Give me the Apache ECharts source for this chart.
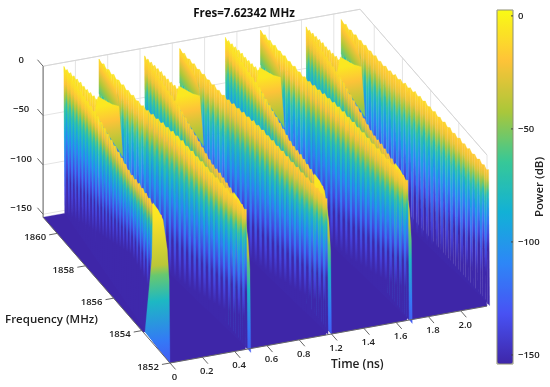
<!DOCTYPE html>
<html>
<head>
<meta charset="utf-8">
<style>html,body{margin:0;padding:0;background:#fff}#main{width:550px;height:387px}</style>
<script src="https://cdn.jsdelivr.net/npm/echarts@6/dist/echarts.min.js"></script>
</head>
<body>
<div id="main"></div>
<script>
// axis ticks
var timeTicks = [0, 0.2, 0.4, 0.6, 0.8, 1.0, 1.2, 1.4, 1.6, 1.8];
var timeLabels = ['0', '0.2', '0.4', '0.6', '0.8', '1.2', '1.4', '1.6', '1.8', '2.0'];
var freqTicks = [1852, 1854, 1856, 1858, 1860];
var powerTicks = [0, -50, -100, -150];
var timeMax = 1.963, freqMin = 1852, freqMax = 1861, powerMin = -153;

// comb lines, same grid for both ridges of a pulse
var combFreq = [1861, 1860.7, 1860.4, 1860.1, 1859.8, 1859.5, 1859.2, 1858.9, 1858.6, 1858.3, 1858, 1857.7, 1857.4, 1857.1, 1856.8, 1856.5,
    1856.2, 1855.9, 1855.6, 1855.3, 1855, 1854.7, 1854.4, 1854.1, 1853.8, 1853.5, 1853.2, 1852.9, 1852.6, 1852.3, 1852];

// front ridge of a pulse
var frontTime = [0.129, 0.124, 0.119, 0.114, 0.109, 0.105, 0.1, 0.095, 0.09, 0.085, 0.08, 0.075, 0.07, 0.065, 0.06, 0.056,
    0.051, 0.046, 0.041, 0.036, 0.031, 0.026, 0.021, 0.016, 0.011, 0.007, 0.002, 0, 0];
var frontPower = [-4, -4, -4, -4, -4, -4, -4, -4, -4, -4, -4, -5, -6, -7, -8, -9, -10, -11, -12, -13, -13, -12, -11, -11, -11, -11, -12, -12, -13];
var frontFall = [0, 0.15, 0.3, 0.45, 0.6, 0.8, 0.95, 1.1, 1.25, 1.4, 1.55, 1.7, 1.85, 2, 2.15, 2.3, 2.45, 2.6, 2.75, 2.9,
    2.9, 2.85, 2.8, 2.7, 2.6, 2.5, 2.4, 2.3, 2.2];

// short ridge just behind the front one
var backFreq = [1861, 1860.8, 1860.6, 1860.4, 1860.2, 1860, 1859.8, 1859.6, 1859.4, 1859.2, 1859];
var backTime = [0.129, 0.132, 0.136, 0.139, 0.142, 0.146, 0.149, 0.152, 0.155, 0.159, 0.162];
var backPower = [-4, -4, -4, -4, -4, -4, -5, -5, -5, -5, -5];
var backFall = [0, 0, 0, 0, 0, 0, 0, 0, 0, 0, 0];

// rear ridge of a pulse
var rearTime = [0.346, 0.35, 0.355, 0.359, 0.364, 0.368, 0.372, 0.377, 0.381, 0.386, 0.39, 0.394, 0.399, 0.403, 0.408, 0.412,
    0.416, 0.421, 0.425, 0.43, 0.434, 0.438, 0.443, 0.447, 0.452, 0.456, 0.46, 0.465, 0.469, 0.472, 0.473];
var rearPower = [-3, -3, -4, -4, -5, -5, -6, -6, -7, -7, -7, -6, -6, -5, -5, -4, -4, -4, -5, -5, -6, -6, -7, -8, -8, -9, -9, -10, -10, -11, -11];
var rearFall = [0, 0, 0, 0, 0, 0, 0, 0, 0, 0, 0, 0, 0, 0, 0, 0.05, 0.1, 0.15, 0.2, 0.3, 0.4, 0.5, 0.55, 0.65, 0.75, 0.85, 1, 1.1, 1.3, 1.5, 1.6];

// smooth leaf behind the rear ridge
var leafTime = [0.346, 0.341, 0.338, 0.294, 0.243, 0.214, 0.346];
var leafFreq = [1861, 1860.52, 1859.9, 1859.05, 1858.4, 1858.57, 1861];
var leafPower = [-3, -5, -10, -10, -5, -5, -38];

// smooth apron under the leaf
var apronTime = [0.098, 0.176, 0.214, 0.243, 0.0425, 0.077];
var apronFreq = [1858.45, 1859.12, 1858.57, 1858.4, 1855.82, 1857.49];
var apronPower = [-8, -5, -5, -5, -8, -9];

// where the pulse is cut by the front of the plot
var edgeTime = [0.007, 0.001, 0.005, 0, 0, 0, 0.011, 0];
var edgeFreq = [1853.29, 1852.86, 1852.55, 1852.19, 1852.06, 1852, 1853.9, 1853.28];
var edgePower = [-12, -12, -17, -41.5, -70, -153, -153, -67];
var edgeShade = [-3, -5, -8, -38, -55, -80, -115, -128];

// four pulses
var pulseStart = [0, 0.5, 1, 1.5];
var pulseDrop = [0, -4, 0, -4];

// noise floor outline
var floorTime = [0, 1.963, 1.985, 1.963, 1.5, 1.498, 1.465, 1, 0.998, 0.965, 0.5, 0.498, 0.465, 0, 0.015, 0];
var floorFreq = [1861, 1861, 1852.3, 1852, 1852, 1852.28, 1852, 1852, 1852.28, 1852, 1852, 1852.28, 1852, 1852, 1853.9, 1853.9];

var parula = ['#3e26a8', '#4852f4', '#2d87f7', '#12b1d6', '#37c897', '#abc739', '#fec338', '#f9fb15'];
var cbMin = -154, cbMax = 2.6;
// how fast a comb line loses power on the way down
var fallCurve = [[0, 0], [0.06, 0.04], [0.12, 0.1], [0.2, 0.24], [0.3, 0.42], [0.45, 0.58], [0.65, 0.74], [0.85, 0.9], [1, 1]];

function project(v) {
    var df = v[1] - 1852;
    return [170 + 161.5 * v[0] - 14.1 * df, 363 - 29 * v[0] - 16.2 * df - 0.987 * (v[2] - powerMin)];
}
function colorOf(p) {
    var r = (p - cbMin) / (cbMax - cbMin);
    return echarts.color.lerp(Math.max(0, Math.min(1, r)), parula);
}
function fallStops(top, squeeze) {
    var s = fallCurve.map(function (c) {
        return { offset: c[0] * squeeze, color: colorOf(top + (powerMin - top) * c[1]) };
    });
    if (squeeze < 1) s.push({ offset: 1, color: colorOf(powerMin) });
    return s;
}
// even colour steps between two powers
function rampStops(a, b) {
    var s = [];
    for (var i = 0; i <= 10; i++) s.push({ offset: i / 10, color: colorOf(a + (b - a) * i / 10) });
    return s;
}
function shadeStops(list) {
    // offsets follow the screen height of the cut edge
    var offs = [0, 0.05, 0.11, 0.39, 0.45, 0.61, 0.86, 1];
    return list.map(function (p, i) { return { offset: offs[i], color: colorOf(p) }; });
}

var marks = [];
function line(a, b, color, width) { marks.push({ kind: 'line', a: a, b: b, color: color, width: width }); }
function poly(verts, from, to, stops) { marks.push({ kind: 'poly', verts: verts, from: from, to: to, stops: stops }); }
function label(v, dx, dy, text) { marks.push({ kind: 'text', v: v, dx: dx, dy: dy, text: text }); }

// one comb wall: a bright stripe and a darker one per line
function addWall(freq, time, power, fall, start, drop) {
    for (var k = 0; k < time.length - 1; k++) {
        var sh0 = fall[k], sh1 = fall[k + 1];
        var t0 = time[k] + start, t1 = time[k + 1] + start, f0 = freq[k], f1 = freq[k + 1];
        var p0 = power[k] + drop, p1 = power[k + 1] + drop;
        var tm = (t0 + t1) / 2, fm = (f0 + f1) / 2, pm = (p0 + p1) / 2 - 2.5, shm = (sh0 + sh1) / 2;
        // the wall stands on the floor, its colour is spent sooner
        var base = function (t, f) { return [t + 0.006, f, powerMin]; };
        var spent = function (t, f, sh) { return [t + 0.0873 * sh + 0.006, f + sh, powerMin]; };
        var top0 = [t0, f0, p0], topm = [tm, fm, pm], top1 = [t1, f1, p1];
        poly([top0, topm, base(tm, fm), base(t0, f0)], top0, spent(t0, f0, sh0), fallStops(p0, 1));
        poly([topm, top1, base(t1, f1), base(tm, fm)], topm, spent(tm, fm, shm), fallStops(pm, 0.76));
    }
}
function smooth(time, freq, power, start, drop) {
    return time.map(function (t, i) { return [t + start, freq[i], power[i] + drop]; });
}

// back planes
timeTicks.forEach(function (t) { line([t, freqMax, 0], [t, freqMax, powerMin], '#e4e4e4', 1); });
freqTicks.forEach(function (f) { line([timeMax, f, 0], [timeMax, f, powerMin], '#e4e4e4', 1); });
powerTicks.forEach(function (p) {
    line([0, freqMax, p], [timeMax, freqMax, p], '#e4e4e4', 1);
    line([timeMax, freqMax, p], [timeMax, freqMin, p], '#e4e4e4', 1);
});
line([0, freqMax, 0], [timeMax, freqMax, 0], '#d6d6d6', 1);
line([timeMax, freqMax, 0], [timeMax, freqMin, 0], '#d6d6d6', 1);

// noise floor
var floorVerts = floorTime.map(function (t, i) { return [t, floorFreq[i], powerMin]; });
poly(floorVerts, floorVerts[0], floorVerts[2], [{ offset: 0, color: parula[0] }, { offset: 1, color: parula[0] }]);

// pulses, far one first
for (var p = pulseStart.length - 1; p >= 0; p--) {
    var st = pulseStart[p], dr = pulseDrop[p];
    addWall(combFreq, rearTime, rearPower, rearFall, st, dr);
    var leaf = smooth(leafTime, leafFreq, leafPower, st, dr);
    poly(leaf, leaf[6], leaf[2], rampStops(-60, -12));
    addWall(backFreq, backTime, backPower, backFall, st, dr);
    var apron = smooth(apronTime, apronFreq, apronPower, st, dr);
    poly(apron, apron[2], apron[4], rampStops(-5, -55));
    addWall(combFreq, frontTime, frontPower, frontFall, st, dr);
    var edge = smooth(edgeTime, edgeFreq, edgePower, st, dr);
    poly(edge, edge[0], edge[5], shadeStops(edgeShade));
}

// axes
var axisColor = '#666';
line([0, freqMax, 0], [0, freqMax, powerMin], axisColor, 1);
line([0, freqMax, powerMin], [0, freqMin, powerMin], axisColor, 1);
line([0, freqMin, powerMin], [timeMax, freqMin, powerMin], axisColor, 1);
powerTicks.forEach(function (v) {
    line([0, freqMax, v], [0, freqMax + 0.4, v], axisColor, 1);
    label([0, freqMax, v], -22, -6, String(v).replace('-', '\u2212'));
});
freqTicks.forEach(function (f) {
    line([0, f, powerMin], [-0.05, f, powerMin], axisColor, 1);
    label([0, f, powerMin], -22, 4, String(f));
});
timeTicks.forEach(function (t, i) {
    line([t, freqMin, powerMin], [t, freqMin - 0.4, powerMin], axisColor, 1);
    label([t, freqMin, powerMin], 4.5, 14, timeLabels[i]);
});

var textFont = '"Open Sans", "Noto Sans", sans-serif';

function renderMark(params, api) {
    var m = marks[params.dataIndex];
    function pt(v) { return api.coord(project(v)); }
    if (m.kind === 'line') {
        var a = pt(m.a), b = pt(m.b);
        return { type: 'line', shape: { x1: a[0], y1: a[1], x2: b[0], y2: b[1] }, style: { stroke: m.color, lineWidth: m.width } };
    }
    if (m.kind === 'text') {
        var q = pt(m.v);
        return { type: 'text', style: { x: q[0] + m.dx, y: q[1] + m.dy, text: m.text, fill: '#222', align: 'center', verticalAlign: 'middle', font: '600 9.5px ' + textFont } };
    }
    var f = pt(m.from), g = pt(m.to);
    var fill = { type: 'linear', global: true, x: f[0], y: f[1], x2: g[0], y2: g[1], colorStops: m.stops };
    return { type: 'polygon', shape: { points: m.verts.map(pt) }, style: { fill: fill, stroke: fill, lineWidth: 0.3 } };
}

// colour bar ticks and their labels, on the bar's own axis
function renderBarTick(params, api) {
    var v = api.value(1), c = api.coord([1, v]);
    return {
        type: 'group', children: [
            { type: 'line', shape: { x1: c[0] - 2, y1: c[1], x2: c[0], y2: c[1] }, style: { stroke: '#444', lineWidth: 1 } },
            { type: 'text', style: { x: c[0] + 5, y: c[1], text: String(v).replace('-', '\u2212'), fill: '#222', align: 'left', verticalAlign: 'middle', font: '600 9.5px ' + textFont } }
        ]
    };
}

var myChart = echarts.init(document.getElementById('main'));
myChart.setOption({
    animation: false,
    title: {
        text: 'Fres=7.62342 MHz', left: 239, top: 3, textAlign: 'center',
        textStyle: { fontFamily: textFont, fontSize: 11.5, fontWeight: 'bold', color: '#111' }
    },
    grid: [
        { left: 0, top: 0, width: 550, height: 387 },
        { left: 497, top: 10, width: 16, height: 354, show: true, borderColor: '#8f8f70', borderWidth: 1, z: 10 }
    ],
    xAxis: [
        { type: 'value', min: 0, max: 550, show: false, gridIndex: 0 },
        { type: 'value', min: 0, max: 1, show: false, gridIndex: 1 }
    ],
    yAxis: [
        { type: 'value', min: 0, max: 387, inverse: true, show: false, gridIndex: 0 },
        {
            type: 'value', min: cbMin, max: cbMax, gridIndex: 1, position: 'right',
            name: 'Power (dB)', nameLocation: 'middle', nameRotate: 90, nameGap: 21,
            nameTextStyle: { fontFamily: textFont, fontSize: 11.5, fontWeight: 600, color: '#222' },
            splitLine: { show: false }, axisLine: { show: false }, axisTick: { show: false }, axisLabel: { show: false }
        }
    ],
    visualMap: {
        type: 'continuous', seriesIndex: 1, min: cbMin, max: cbMax, left: 497, top: 10, padding: 0,
        itemWidth: 16, itemHeight: 354, calculable: false, text: null, showLabel: false, z: 5,
        inRange: { color: parula }
    },
    series: [
        { type: 'custom', xAxisIndex: 0, yAxisIndex: 0, clip: false, silent: true, renderItem: renderMark, data: marks.map(function (m, i) { return [i]; }), encode: { x: 0 } },
        { type: 'custom', xAxisIndex: 1, yAxisIndex: 1, clip: false, silent: true, z: 20, renderItem: renderBarTick, data: powerTicks.map(function (v) { return [1, v]; }), encode: { x: 0, y: 1 } }
    ],
    graphic: [
        { type: 'text', left: 5, top: 314, style: { text: 'Frequency (MHz)', font: '600 11.5px ' + textFont, fill: '#222' } },
        { type: 'text', left: 331, top: 359, style: { text: 'Time (ns)', font: '600 12px ' + textFont, fill: '#222' } }
    ]
});
</script>
</body>
</html>
